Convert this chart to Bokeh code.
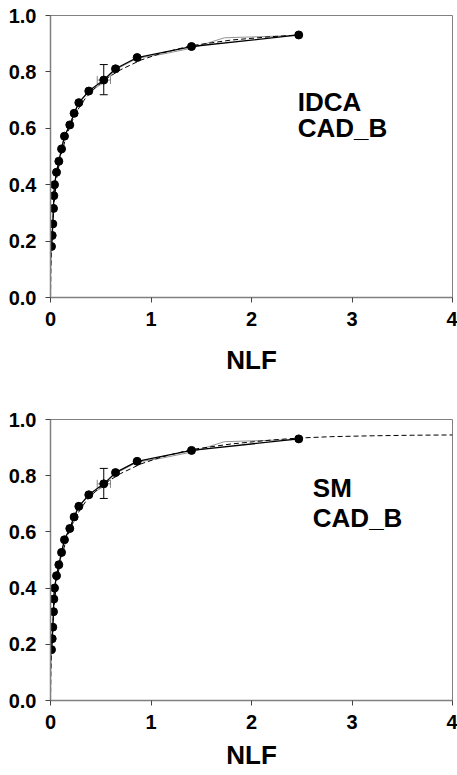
from bokeh.plotting import figure
from bokeh.layouts import column
from bokeh.models import Range1d, FixedTicker, Whisker, TeeHead, ColumnDataSource, Label, NumeralTickFormatter
from bokeh.embed import file_html
from bokeh.resources import INLINE

# operating points (shared by both panels)
pt_x = [0.010, 0.017, 0.023, 0.030, 0.033, 0.040, 0.060, 0.083, 0.110, 0.139, 0.192, 0.235,
        0.282, 0.381, 0.530, 0.647, 0.862, 1.403, 2.470]
pt_y = [0.181, 0.220, 0.261, 0.316, 0.361, 0.400, 0.444, 0.483, 0.527, 0.572, 0.612, 0.653,
        0.691, 0.732, 0.771, 0.811, 0.851, 0.890, 0.931]

# thin empirical curve (light)
thin_x = [0.0, 0.0, 0.010, 0.017, 0.023, 0.030, 0.033, 0.040, 0.060, 0.083, 0.110, 0.139, 0.192,
          0.235, 0.282, 0.381, 0.530, 0.647, 0.862, 1.10, 1.403, 1.73, 2.470]
thin_y = [0.0, 0.09, 0.181, 0.220, 0.261, 0.316, 0.361, 0.400, 0.444, 0.483, 0.527, 0.572, 0.612,
          0.653, 0.691, 0.728, 0.762, 0.808, 0.848, 0.862, 0.884, 0.921, 0.929]

# fitted curve (dashed), top panel
fit_x_top = [0.0, 0.004, 0.010, 0.018, 0.028, 0.042, 0.062, 0.088, 0.12, 0.16, 0.21, 0.27,
             0.35, 0.45, 0.55, 0.70, 0.90, 1.10, 1.40, 1.80, 2.20, 2.47]
fit_y_top = [0.0, 0.10, 0.175, 0.235, 0.295, 0.355, 0.425, 0.475, 0.525, 0.575, 0.622, 0.665,
             0.708, 0.745, 0.775, 0.808, 0.842, 0.866, 0.893, 0.913, 0.925, 0.931]

# fitted curve (dashed), bottom panel — extends to NLF = 4
fit_x_bot = fit_x_top + [2.8, 3.2, 3.6, 4.0]
fit_y_bot = [0.0, 0.10, 0.175, 0.235, 0.295, 0.355, 0.425, 0.475, 0.525, 0.575, 0.622, 0.665,
             0.708, 0.745, 0.775, 0.808, 0.842, 0.866, 0.893, 0.913, 0.927, 0.934,
             0.939, 0.942, 0.944, 0.945]

# error bar at one operating point
err_x = [0.530]
err_y = [0.771]
err_y_lo = [0.719]
err_y_hi = [0.826]
err_x_lo = [0.465]
err_x_hi = [0.597]

x_ticks = [0, 1, 2, 3, 4]
y_ticks = [0.0, 0.2, 0.4, 0.6, 0.8, 1.0]

FONT = "Liberation Sans"
GRAY = "#808080"


def make_panel(fit_x, fit_y, label1, label2, lx, ly1, ly2, height, top, bottom, lab_standoff):
    p = figure(width=457, height=height, output_backend="svg", toolbar_location=None,
               x_range=Range1d(0, 4), y_range=Range1d(0, 1.0),
               min_border_left=50, min_border_right=5, min_border_top=top,
               min_border_bottom=bottom)
    p.xgrid.visible = False
    p.ygrid.visible = False
    p.outline_line_color = GRAY
    p.outline_line_width = 1
    p.background_fill_color = "white"
    p.border_fill_color = "white"

    for ax in (p.xaxis[0], p.yaxis[0]):
        ax.axis_line_color = GRAY
        ax.axis_line_width = 1.5
        ax.major_tick_line_color = "#444444"
        ax.minor_tick_line_color = None
        ax.major_tick_out = 5
        ax.major_tick_in = 0
        ax.major_label_text_font = FONT
        ax.major_label_text_font_style = "bold"
        ax.major_label_text_font_size = "20px"
        ax.major_label_text_color = "black"
    p.xaxis[0].ticker = FixedTicker(ticks=x_ticks)
    p.yaxis[0].ticker = FixedTicker(ticks=y_ticks)
    p.xaxis[0].formatter = NumeralTickFormatter(format="0")
    p.yaxis[0].formatter = NumeralTickFormatter(format="0.0")
    p.xaxis[0].major_label_standoff = 9
    p.yaxis[0].major_label_standoff = 9
    p.xaxis[0].axis_label = "NLF"
    p.xaxis[0].axis_label_text_font = FONT
    p.xaxis[0].axis_label_text_font_style = "bold"
    p.xaxis[0].axis_label_text_font_size = "26px"
    p.xaxis[0].axis_label_text_color = "black"
    p.xaxis[0].axis_label_standoff = lab_standoff

    p.line(thin_x, thin_y, line_color="#777777", line_width=0.8)
    p.line(fit_x, fit_y, line_color="black", line_width=1, line_dash="5 3")
    p.line(pt_x, pt_y, line_color="black", line_width=1.3)
    p.scatter(pt_x, pt_y, size=8, fill_color="black", line_color="black")

    src = ColumnDataSource(dict(x=err_x, y=err_y, ylo=err_y_lo, yhi=err_y_hi,
                                xlo=err_x_lo, xhi=err_x_hi))
    p.add_layout(Whisker(source=src, base="x", lower="ylo", upper="yhi", dimension="height",
                         line_color="black", line_width=1,
                         upper_head=TeeHead(size=8, line_color="black", line_width=1),
                         lower_head=TeeHead(size=8, line_color="black", line_width=1)))
    p.add_layout(Whisker(source=src, base="y", lower="xlo", upper="xhi", dimension="width",
                         line_color="#888888", line_width=1,
                         upper_head=TeeHead(size=8, line_color="#888888", line_width=1),
                         lower_head=TeeHead(size=8, line_color="#888888", line_width=1)))

    for txt, yy in ((label1, ly1), (label2, ly2)):
        p.add_layout(Label(x=lx, y=yy, text=txt, text_font=FONT, text_font_style="bold",
                           text_font_size="26px", text_color="black",
                           text_baseline="alphabetic", text_align="left"))
    return p


p1 = make_panel(fit_x_top, fit_y_top, "IDCA", "CAD_B", 2.46, 0.695, 0.600, 390, 15, 93, 16)
p2 = make_panel(fit_x_bot, fit_y_bot, "SM", "CAD_B", 2.61, 0.755, 0.650, 385, 29, 75, 8)

layout = column(p1, p2, spacing=0)
open("out.html", "w").write(file_html(layout, INLINE))
